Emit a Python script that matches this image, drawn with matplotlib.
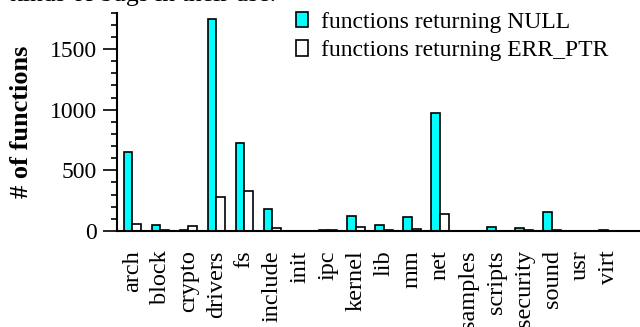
import numpy as np
import matplotlib.pyplot as plt
from matplotlib.ticker import MultipleLocator

plt.rcParams['font.family'] = ['Liberation Serif', 'DejaVu Serif']

dirs = ['arch', 'block', 'crypto', 'drivers', 'fs', 'include', 'init', 'ipc',
        'kernel', 'lib', 'mm', 'net', 'samples', 'scripts', 'security',
        'sound', 'usr', 'virt']
ret_null = [651, 52, 8, 1748, 728, 184, 2, 5, 126, 47, 115, 973, 2, 30, 27, 159, 0, 3]
ret_err = [55, 5, 44, 283, 332, 25, 1, 5, 33, 8, 19, 143, 1, 2, 10, 3, 0, 2]

fig = plt.figure(figsize=(6.4, 3.27), dpi=100)
ax = fig.add_axes([0.183, 0.294, 0.817, 0.667])

x = np.arange(len(dirs))
w = 0.31
ax.bar(x - w / 2, ret_null, w, color='#00ffff', edgecolor='black', linewidth=1.2,
       label='functions returning NULL')
ax.bar(x + w / 2, ret_err, w, color='white', edgecolor='black', linewidth=1.2,
       label='functions returning ERR_PTR')

ax.set_xlim(-0.54, 18.14)
ax.set_ylim(0, 1800)
ax.yaxis.set_major_locator(MultipleLocator(500))
ax.yaxis.set_minor_locator(MultipleLocator(100))
ax.tick_params(axis='y', which='major', length=10, width=1.2, labelsize=17, pad=4.5)
ax.tick_params(axis='y', which='minor', length=4.5, width=1.2)
ax.set_xticks(x)
ax.set_xticklabels(dirs, rotation=90, fontsize=17.5)
ax.tick_params(axis='x', length=0, pad=14)

for s in ['top', 'right']:
    ax.spines[s].set_visible(False)
ax.spines['left'].set_linewidth(1.5)
ax.spines['bottom'].set_linewidth(1.5)

ax.set_ylabel('# of functions', fontsize=19, fontweight='bold', labelpad=12)

ax.legend(loc='upper left', bbox_to_anchor=(0.324, 1.048), frameon=False,
          fontsize=17, handlelength=0.5, handleheight=0.65, handletextpad=0.55,
          labelspacing=0.3, borderaxespad=0)

fig.text(10 / 640, 1 - 1.5 / 327, 'kinds of bugs in their use.', fontsize=18.5,
         va='baseline', ha='left')

fig.savefig('out.png', dpi=100)
